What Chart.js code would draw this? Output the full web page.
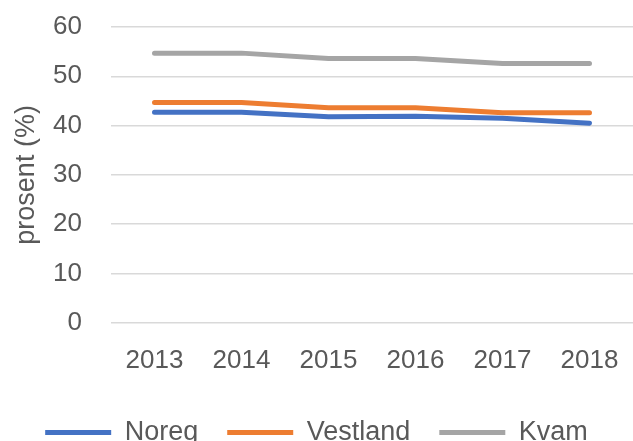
<!DOCTYPE html>
<html>
<head>
<meta charset="utf-8">
<script src="https://cdn.jsdelivr.net/npm/chart.js@4/dist/chart.umd.min.js"></script>
<style>
 html,body{margin:0;padding:0;background:#fff;}
 #wrap{width:633px;height:441px;position:relative;}
</style>
</head>
<body>
<div id="wrap"><canvas id="c"></canvas></div>
<script>
Chart.defaults.font.family='"Liberation Sans",Arial,sans-serif';
Chart.defaults.color="#595959";

const years=["2013","2014","2015","2016","2017","2018"];
const noreg=[42.7,42.7,41.8,41.9,41.5,40.5];
const vestland=[44.7,44.7,43.6,43.6,42.6,42.6];
const kvam=[54.7,54.7,53.6,53.6,52.6,52.6];
const yTitle="prosent (%)";

const line=(label,data,col)=>({label,data,borderColor:col,backgroundColor:col,borderWidth:5,
  pointRadius:0,tension:0,borderCapStyle:"round",borderJoinStyle:"round"});

new Chart(document.getElementById("c"),{type:"line",
  data:{labels:years,datasets:[
    line("Noreg",noreg,"#4472C4"),
    line("Vestland",vestland,"#ED7D31"),
    line("Kvam",kvam,"#A5A5A5"),
  ]},
  options:{responsive:true,maintainAspectRatio:false,animation:false,
    layout:{padding:{top:27,right:0,bottom:-15,left:0}},
    scales:{
      x:{offset:true,grid:{display:false},border:{display:false},
        ticks:{font:{size:26},padding:14,maxRotation:0}},
      // tick marks kept invisible, only used to push labels away from the grid
      y:{min:0,max:60,grid:{color:"#d9d9d9",lineWidth:1.5,drawTicks:true,tickLength:27,tickColor:"rgba(0,0,0,0)"},border:{display:false},
        ticks:{stepSize:10,font:{size:26},padding:2},
        title:{display:true,text:yTitle,font:{size:27},padding:{top:10,bottom:0}},
        afterFit:s=>{s.width=111;}}
    },
    plugins:{tooltip:{enabled:false},
      legend:{position:"bottom",
        labels:{boxWidth:66,boxHeight:5,padding:29,font:{size:27},
          generateLabels:ch=>Chart.defaults.plugins.legend.labels.generateLabels(ch).map(i=>({...i,lineWidth:0}))}}}}});
</script>
</body>
</html>
